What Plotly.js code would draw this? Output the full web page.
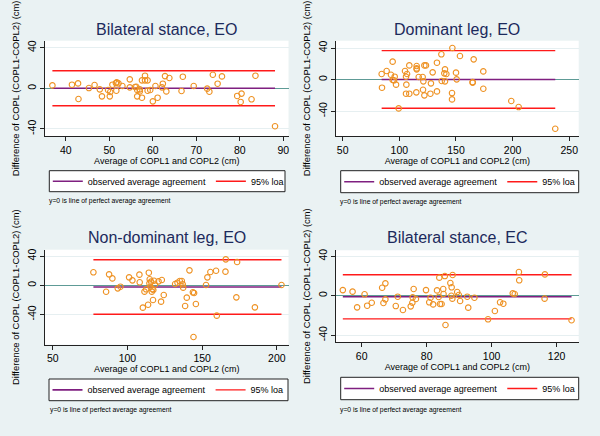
<!DOCTYPE html>
<html><head><meta charset="utf-8">
<script src="https://cdn.plot.ly/plotly-3.0.1.min.js"></script>
<style>html,body{margin:0;padding:0;background:#eaf2f3;} #chart{width:600px;height:436px;}</style>
</head><body><div id="chart"></div>
<script>
const panelTitles = ['Bilateral stance, EO', 'Dominant leg, EO', 'Non-dominant leg, EO', 'Bilateral stance, EC'];
const xTitle = 'Average of COPL1 and COPL2 (cm)';
const yTitle = 'Difference of COPL (COPL1-COPL2) (cm)';
const meanName = 'observed average agreement';
const loaName = '95% loa';
const noteText = 'y=0 is line of perfect average agreement';

// Panel 1: Bilateral stance, EO
const avg1 = [36.9, 41.4, 42.8, 42.9, 45.3, 46.6, 47.8, 48.3, 49.7, 50.2, 50.1, 50.7, 51.5, 51.7, 52.1, 51.6, 53.0, 54.7, 54.7, 55.9, 56.2, 56.4, 56.4, 57.0, 57.0, 57.5, 57.5, 58.2, 58.2, 58.8, 58.8, 59.4, 60.0, 60.6, 61.1, 62.1, 62.3, 62.8, 63.1, 63.8, 66.6, 66.9, 69.4, 72.5, 73.0, 73.8, 74.9, 75.9, 79.4, 80.4, 80.2, 82.7, 83.6, 88.1];
const diff1 = [2.9, 3.6, 4.9, -10.5, 0.3, 3.3, -1.0, -7.9, -1.6, -3.6, -7.9, 3.6, 5.2, 5.9, 4.9, -2.3, 2.3, 8.9, 1.0, 1.3, 1.6, -1.6, -7.9, -3.0, -1.0, -9.2, 7.9, 12.5, 7.9, 7.9, -2.3, -1.6, -12.8, 2.3, -9.2, 1.0, 4.6, 12.1, -3.0, 10.2, -2.6, 11.5, 2.3, -0.3, -3.3, 13.4, 4.6, 11.8, -7.5, -5.2, -13.4, -10.8, 12.5, -37.4];

// Panel 2: Dominant leg, EO
const avg2 = [84.4, 84.7, 88.8, 92.6, 94.1, 94.1, 95.9, 95.3, 97.1, 99.4, 105.0, 105.9, 106.8, 106.2, 105.9, 108.8, 108.8, 115.3, 115.3, 115.3, 117.1, 115.0, 120.6, 121.2, 122.1, 123.5, 120.9, 122.1, 127.4, 127.9, 129.4, 133.2, 133.2, 137.1, 137.4, 140.3, 139.7, 141.5, 140.3, 146.8, 146.5, 146.5, 150.0, 150.6, 153.5, 164.7, 164.7, 165.6, 174.1, 174.1, 198.8, 205.3, 237.6];
const diff2 = [7.2, -10.1, 11.0, 6.3, 22.8, -0.4, 3.8, -0.8, -6.3, -36.3, 11.0, 3.8, 7.2, -6.3, -17.7, -17.7, 18.1, 17.3, 14.3, 13.1, 3.4, -16.0, 3.4, -2.1, 18.1, 18.1, -12.7, -19.8, -17.7, -4.6, 9.3, 21.5, -14.8, 32.1, -1.7, 13.1, 8.0, 7.2, -2.1, 40.1, -16.9, -24.9, 8.9, 0.4, 30.0, -3.0, -3.8, 25.7, 10.5, -11.4, -27.0, -34.6, -62.0];

// Panel 3: Non-dominant leg, EO
const avg3 = [77.2, 85.7, 87.7, 89.9, 93.5, 95.3, 101.1, 103.3, 108.0, 108.2, 110.3, 111.4, 112.5, 114.3, 113.8, 114.7, 114.9, 115.4, 115.8, 116.3, 116.7, 117.1, 117.3, 118.4, 117.8, 120.8, 122.5, 123.0, 124.3, 131.9, 133.5, 135.0, 136.4, 137.0, 137.3, 138.6, 139.7, 141.5, 143.8, 144.6, 145.8, 144.2, 152.6, 153.5, 155.5, 159.3, 159.8, 165.8, 165.6, 173.4, 172.9, 185.3, 203.1];
const diff3 = [17.8, -8.8, 15.0, 9.5, -4.2, -1.9, 10.9, 6.8, 14.6, 4.1, -30.6, -8.7, -5.5, 17.3, -26.6, 2.7, 8.2, -1.9, 5.0, -8.7, -5.1, -20.1, -6.4, 0.9, 6.3, 5.4, -22.4, 7.3, -13.3, 1.8, 3.6, 5.9, 5.9, 1.3, -3.2, -28.4, -16.9, 20.5, -9.6, -10.5, -25.6, -70.8, 0.4, 10.9, 18.2, 20.0, -41.6, 35.6, 18.7, 31.9, -16.5, -30.2, 0.4];

// Panel 4: Bilateral stance, EC
const avg4 = [54.2, 57.2, 58.6, 60.9, 61.7, 63.1, 66.3, 67.3, 66.7, 67.3, 70.5, 71.1, 72.7, 75.1, 75.6, 75.7, 76.0, 76.7, 79.8, 80.8, 81.2, 82.0, 83.2, 83.9, 83.7, 84.1, 84.6, 85.1, 85.2, 85.6, 85.8, 87.3, 87.7, 88.0, 87.6, 87.9, 89.4, 89.9, 90.3, 92.5, 92.8, 94.7, 98.9, 101.0, 102.6, 103.6, 106.5, 107.1, 108.4, 108.5, 116.4, 116.3, 124.6];
const diff4 = [5.7, 4.1, -11.8, 1.4, -10.1, -7.1, 8.1, 12.5, -7.4, -3.7, -10.5, -1.0, -14.5, -10.8, -7.1, -1.7, 6.8, -3.3, 5.7, -6.7, -2.0, -8.8, 5.4, 18.3, -1.3, -8.4, -8.4, 6.8, 1.7, 19.9, -29.7, 12.8, 8.5, 21.0, 0.0, -3.0, 3.7, 0.7, -5.4, -1.0, -12.1, -2.0, -23.9, -15.5, -6.7, -8.1, 2.4, 1.7, 24.0, 15.6, 21.6, -3.0, -24.9];

// Mean difference and 95% limits of agreement (per panel)
const meanDiff = [0.1, 0.3, -2.3, -1.1];
const loaUpper = [17.3, 36.7, 35.1, 21.3];
const loaLower = [-17.1, -36.2, -39.7, -23.5];

const yTickVals = [-40, 0, 40];
const yTickText = ['-40', '0', '40'];
const xTickVals = [[40, 50, 60, 70, 80, 90], [50, 100, 150, 200, 250], [50, 100, 150, 200], [60, 80, 100, 120]];

// ---- styling / layout ----
const FONT = 'Liberation Sans, Arial, Helvetica, sans-serif';
const W = 600, H = 436;
const avgs = [avg1, avg2, avg3, avg4];
const diffs = [diff1, diff2, diff3, diff4];
const xDomains = [[45/W, 288.5/W], [336/W, 578.7/W], [45/W, 288.5/W], [336/W, 578.7/W]];
const yDomains = [[1-136/H, 1-40.7/H], [1-136/H, 1-40.7/H], [1-344.7/H, 1-249.7/H], [1-342/H, 1-250.3/H]];
const xRanges = [[35.2, 91.2], [44.1, 258.3], [44.8, 207.8], [52.1, 126.8]];
const yRanges = [[-47, 47], [-71.2, 49.3], [-81.4, 48.8], [-46.9, 46]];
const titleY = [29.5, 29.5, 238, 238];
// legend frame boxes in px: [x0, y0, x1, y1]
const legendBox = [[49.3, 170.7, 285, 191.7], [340.7, 170.7, 578.7, 192.7], [49, 379, 288, 400.7], [340.7, 377.3, 578.7, 399.7]];
const notePos = [[46.7, 201], [338, 201.5], [47.7, 410], [338.3, 410]];

const PURPLE = '#7f1f80', RED = '#ff1a1a', ORANGE = '#ee9224', ZERO = '#5e9b96';
const data = [];
const layout = {
  width: W, height: H,
  margin: {l: 0, r: 0, t: 0, b: 0},
  paper_bgcolor: '#eaf2f3',
  plot_bgcolor: '#ffffff',
  font: {family: FONT, color: '#000'},
  showlegend: true,
  annotations: [],
  shapes: []
};

for (let i = 0; i < 4; i++) {
  const s = i === 0 ? '' : String(i + 1);
  const xa = 'x' + s, ya = 'y' + s;
  const lg = 'legend' + s;
  const xs = avgs[i];
  const xmin = Math.min(...xs), xmax = Math.max(...xs);
  data.push({
    type: 'scatter', mode: 'lines', xaxis: xa, yaxis: ya, legend: lg,
    x: [xmin, xmax], y: [meanDiff[i], meanDiff[i]],
    line: {color: PURPLE, width: 1.6}, name: meanName, hoverinfo: 'skip'
  });
  data.push({
    type: 'scatter', mode: 'lines', xaxis: xa, yaxis: ya, legend: lg,
    x: [xmin, xmax, null, xmin, xmax], y: [loaUpper[i], loaUpper[i], null, loaLower[i], loaLower[i]],
    line: {color: RED, width: 1.4}, name: loaName, connectgaps: false, hoverinfo: 'skip'
  });
  data.push({
    type: 'scatter', mode: 'markers', xaxis: xa, yaxis: ya, showlegend: false,
    x: xs, y: diffs[i],
    marker: {symbol: 'circle-open', size: 5.5, color: ORANGE, line: {width: 1.1, color: ORANGE}},
    hoverinfo: 'skip'
  });
  layout['xaxis' + s] = {
    domain: xDomains[i], range: xRanges[i], anchor: ya,
    tickmode: 'array', tickvals: xTickVals[i],
    showgrid: false, zeroline: false,
    showline: true, linecolor: '#222', linewidth: 1,
    ticks: 'outside', ticklen: 4, tickcolor: '#222', tickwidth: 1,
    tickfont: {size: 10.5, color: '#000'},
    title: {text: xTitle, font: {size: 9, color: '#000'}, standoff: 2},
    fixedrange: true
  };
  layout['yaxis' + s] = {
    domain: yDomains[i], range: yRanges[i], anchor: xa,
    tickmode: 'array', tickvals: yTickVals, ticktext: yTickText, tickangle: -90,
    showgrid: true, gridcolor: '#e6eff1', gridwidth: 1,
    zeroline: true, zerolinecolor: ZERO, zerolinewidth: 1.5,
    showline: true, linecolor: '#222', linewidth: 1,
    ticks: 'outside', ticklen: 4, tickcolor: '#222', tickwidth: 1,
    tickfont: {size: 10.5, color: '#000'},
    title: {text: yTitle, font: {size: 9.4, color: '#000'}, standoff: 4},
    fixedrange: true
  };
  const b = legendBox[i];
  layout.shapes.push({
    type: 'rect', xref: 'paper', yref: 'paper', layer: 'above',
    x0: b[0] / W, x1: b[2] / W, y0: 1 - b[3] / H, y1: 1 - b[1] / H,
    fillcolor: '#ffffff', line: {color: '#222', width: 1}
  });
  layout[lg] = {
    orientation: 'h', x: (b[0] - 1.5) / W, y: 1 - ((b[1] + b[3]) / 2) / H,
    xanchor: 'left', yanchor: 'middle',
    bgcolor: 'rgba(0,0,0,0)', borderwidth: 0,
    font: {size: 9, color: '#000', family: FONT},
    itemclick: false, itemdoubleclick: false
  };
  layout.annotations.push({
    text: panelTitles[i], xref: xa + ' domain', x: 0.5, yref: 'paper', y: 1 - titleY[i] / H,
    xanchor: 'center', yanchor: 'middle', showarrow: false,
    font: {size: 16, color: '#1c2a5c', family: FONT}
  });
  layout.annotations.push({
    text: noteText, xref: 'paper', x: notePos[i][0] / W, yref: 'paper', y: 1 - notePos[i][1] / H,
    xanchor: 'left', yanchor: 'middle', showarrow: false,
    font: {size: 6.8, color: '#000', family: FONT}
  });
}

Plotly.newPlot('chart', data, layout, {staticPlot: true, displayModeBar: false});
</script>
</body></html>
